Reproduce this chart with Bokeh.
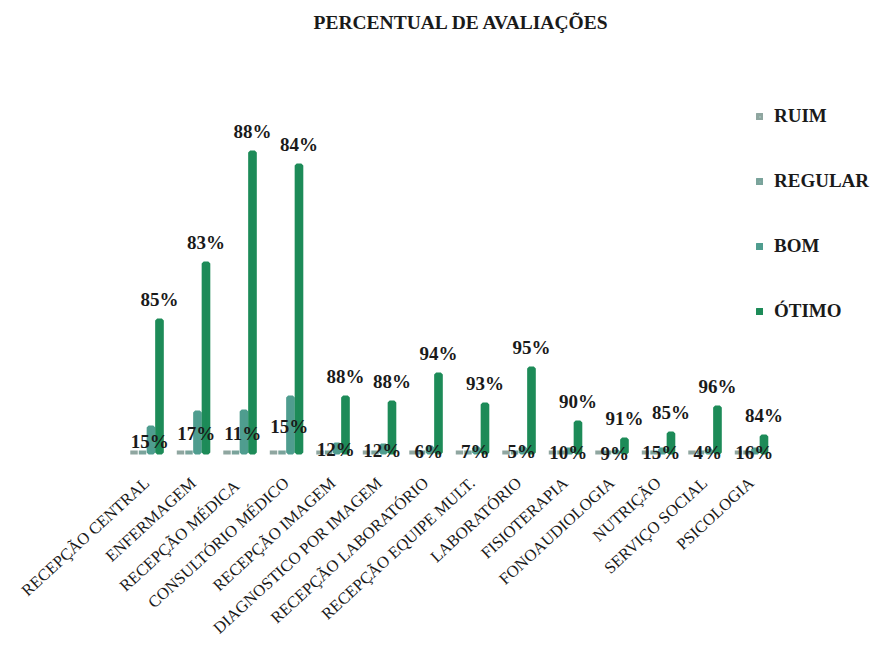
from bokeh.plotting import figure
from bokeh.models import Range1d, ColumnDataSource, Legend, LegendItem, FixedTicker
from bokeh.transform import dodge
from bokeh.core.properties import value
from bokeh.embed import file_html
from bokeh.resources import INLINE

categories = ["RECEPÇÃO CENTRAL", "ENFERMAGEM", "RECEPÇÃO  MÉDICA", "CONSULTÓRIO MÉDICO",
              "RECEPÇÃO IMAGEM", "DIAGNOSTICO POR IMAGEM", "RECEPÇÃO LABORATÓRIO",
              "RECEPÇÃO EQUIPE MULT.", "LABORATÓRIO", "FISIOTERAPIA", "FONOAUDIOLOGIA",
              "NUTRIÇÃO", "SERVIÇO SOCIAL", "PSICOLOGIA"]
ruim = [0, 0, 0, 0, 0, 0, 0, 0, 0, 0, 0, 0, 0, 0]
regular = [0, 0, 0, 0, 0, 0, 0, 0, 0, 0, 0, 0, 0, 0]
bom = [25, 40, 41, 55, 8, 7, 5, 4, 4, 3, 1, 3, 2, 3]
otimo = [132, 189, 300, 287, 55, 50, 78, 48, 84, 30, 13, 19, 45, 16]
otimo_pct = ["85%", "83%", "88%", "84%", "88%", "88%", "94%", "93%", "95%", "90%", "91%", "85%", "96%", "84%"]
bom_pct = ["15%", "17%", "11%", "15%", "12%", "12%", "6%", "7%", "5%", "10%", "9%", "15%", "4%", "16%"]
series = ["RUIM", "REGULAR", "BOM", "ÓTIMO"]
fills = ["#a9c9c2", "#86b3ab", "#4f9d8f", "#1d8b58"]
lines = ["#8fa6a0", "#7aa39b", "#4f9d8f", "#1d8b58"]

SERIF = value("Liberation Serif")
TXT = "#1a1a1a"

xi = list(range(len(categories)))
src = ColumnDataSource(dict(x=xi, ruim=ruim, regular=regular, bom=bom, otimo=otimo,
                            otimo_pct=otimo_pct, bom_pct=bom_pct,
                            bom_mid=[b / 2 for b in bom]))

p = figure(width=876, height=653, x_range=Range1d(-0.5, 15.694),
           y_range=Range1d(-12, 412), output_backend="svg", toolbar_location=None,
           min_border_left=123, min_border_right=0, min_border_top=40, min_border_bottom=189)

p.title.text = "PERCENTUAL DE AVALIAÇÕES"
p.title.align = "left"
p.title.offset = 190
p.title.standoff = 15
p.title.text_font = "Liberation Serif"
p.title.text_font_size = "19.5px"
p.title.text_font_style = "bold"
p.title.text_color = TXT

offsets = [-0.274, -0.091, 0.091, 0.274]
widths = [0.16, 0.16, 0.1, 0.1]
cols = ["ruim", "regular", "bom", "otimo"]
renderers = []
for c, off, w, fc, lc in zip(cols, offsets, widths, fills, lines):
    r = p.vbar(x=dodge("x", off), top=c, bottom=0, width=w,
               source=src, fill_color=fc, line_color=lc, line_width=4)
    renderers.append(r)

p.text(x=dodge("x", 0.274), y="otimo", text="otimo_pct", source=src,
       text_align="center", text_baseline="middle", y_offset=-21,
       text_font=SERIF, text_font_style="bold", text_font_size="19px", text_color=TXT)
p.text(x=dodge("x", 0.065), y="bom_mid", text="bom_pct", source=src,
       text_align="center", text_baseline="middle", y_offset=1,
       text_font=SERIF, text_font_style="bold", text_font_size="19px", text_color=TXT)

legend = Legend(items=[LegendItem(label=s, renderers=[r]) for s, r in zip(series, renderers)],
                location=(633, 141), orientation="vertical",
                glyph_width=7, glyph_height=7, label_height=24, spacing=41,
                label_standoff=11, padding=0, margin=0,
                border_line_color=None, background_fill_alpha=0,
                label_text_font="Liberation Serif", label_text_font_size="19px",
                label_text_font_style="bold", label_text_color=TXT)
p.add_layout(legend)

p.xaxis.ticker = FixedTicker(ticks=xi)
p.xaxis.major_label_overrides = {i: c for i, c in zip(xi, categories)}
p.xaxis.axis_line_color = None
p.xaxis.major_tick_line_color = None
p.xaxis.minor_tick_line_color = None
p.xaxis.major_label_orientation = 0.742
p.xaxis.major_label_standoff = 10
p.xaxis.major_label_text_font = "Liberation Serif"
p.xaxis.major_label_text_font_size = "16.5px"
p.xaxis.major_label_text_color = TXT
p.yaxis.visible = False
p.xgrid.grid_line_color = None
p.ygrid.grid_line_color = None
p.outline_line_color = None
p.background_fill_color = "white"
p.border_fill_color = "white"

open("out.html", "w").write(file_html(p, INLINE))
